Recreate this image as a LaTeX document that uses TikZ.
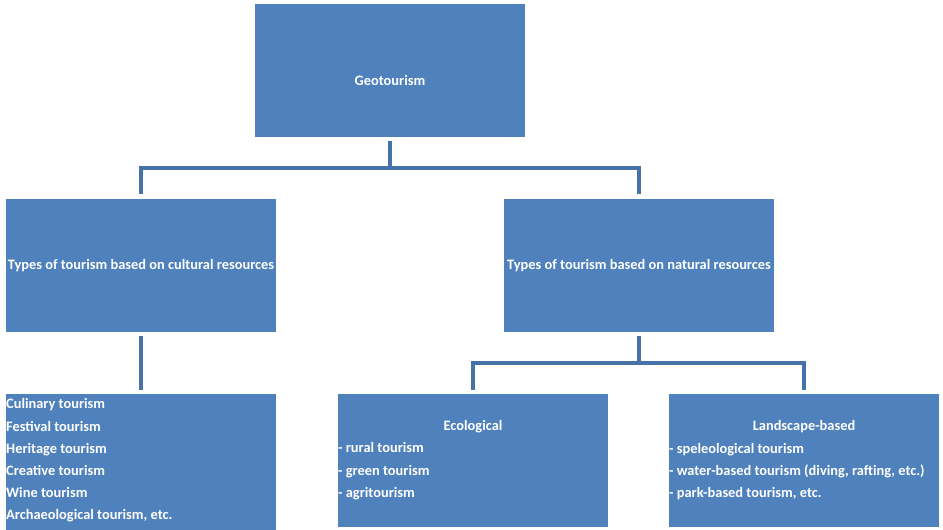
\documentclass[tikz,border=0pt]{standalone}
\usepackage{fontspec}
\setmainfont{Carlito}
\usetikzlibrary{positioning,calc}
\definecolor{boxblue}{RGB}{79,129,189}
\definecolor{lineblue}{RGB}{70,114,168}

\begin{document}
\begin{tikzpicture}[x=1pt, y=-1pt,
  box/.style={
    rectangle, fill=boxblue, minimum width=270pt, minimum height=133pt,
    inner sep=0pt, text=white, font=\fontsize{14.4}{22}\selectfont\bfseries
  },
  caption/.style={
    inner sep=0pt, text=white, font=\fontsize{14.4}{22}\selectfont\bfseries
  },
  list/.style={
    anchor=north west, align=left, inner sep=0pt, text=white,
    font=\fontsize{14.4}{22.2}\selectfont\bfseries
  },
  link/.style={
    draw=lineblue, line width=4.5pt, shorten <=4pt, shorten >=4.5pt
  }
]
\useasboundingbox (0,0) rectangle (943,530);

% Boxes
\node[box] (geo) at (390,70.5) {};
\node[box] (cult) at (141,265.5) {Types of tourism based on cultural resources};
\node[box] (nat) at (639,265.5) {Types of tourism based on natural resources};
\node[box, minimum height=140pt, anchor=north] (culbox) at (141,394) {};
\node[box, anchor=north] (eco) at (473,394) {};
\node[box, anchor=north] (land) at (804,394) {};

% Box texts
\node[caption] (geohead) at (390,80.5) {Geotourism};
\node[list] (culitems) at (6,398.5) {
  Culinary tourism\\
  Festival tourism\\
  Heritage tourism\\
  Creative tourism\\
  Wine tourism\\
  Archaeological tourism, etc.
};
\node[caption] (ecohead) at (473,427) {Ecological};
\node[list] (ecoitems) at (338,442.5) {
  - rural tourism\\
  - green tourism\\
  - agritourism
};
\node[caption] (landhead) at (804,427) {Landscape-based};
\node[list] (landitems) at (669,443) {
  - speleological tourism\\
  - water-based tourism (diving, rafting, etc.)\\
  - park-based tourism, etc.
};

% Connectors
\draw[link] (geo.south) -- ++(0,31) -| (cult.north);
\draw[link] (geo.south) -- ++(0,31) -| (nat.north);
\draw[link] (cult.south) -- (culbox.north);
\draw[link] (nat.south) -- ++(0,31) -| (eco.north);
\draw[link] (nat.south) -- ++(0,31) -| (land.north);

\end{tikzpicture}
\end{document}
